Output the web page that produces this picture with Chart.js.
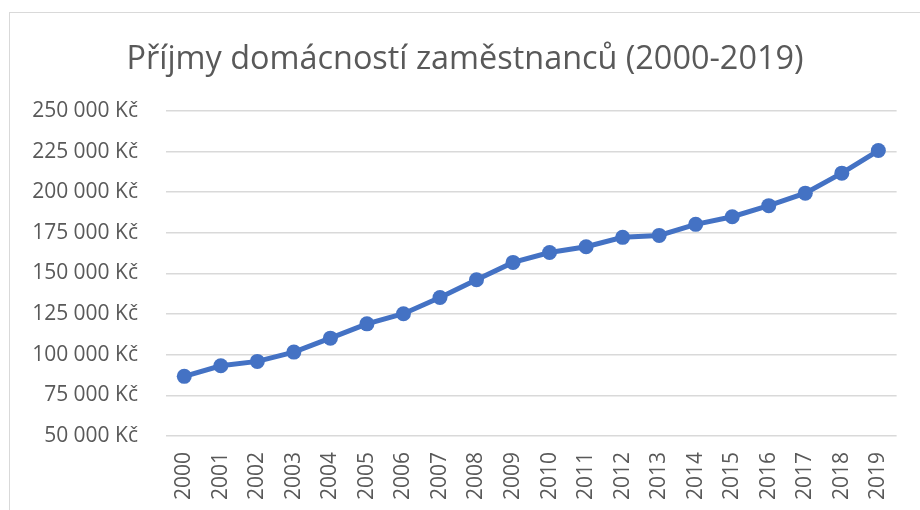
<!DOCTYPE html>
<html>
<head>
<meta charset="utf-8">
<script src="https://cdn.jsdelivr.net/npm/chart.js@4"></script>
<style>
    html, body { margin: 0; padding: 0; background: #fff; }
    #frame {
        position: absolute; left: 9px; top: 12px; width: 920px; height: 510px;
        border-left: 1px solid #d9d9d9; border-top: 1px solid #d9d9d9;
    }
    #wrap { position: absolute; left: 0; top: 0; width: 920px; height: 510px; }
</style>
</head>
<body>
<div id="frame"></div>
<div id="wrap"><canvas id="incomeChart"></canvas></div>
<script>
// Data
const years = ['2000', '2001', '2002', '2003', '2004', '2005', '2006', '2007', '2008', '2009',
    '2010', '2011', '2012', '2013', '2014', '2015', '2016', '2017', '2018', '2019'];
const incomes = [86700, 93200, 95900, 101600, 110200, 119000, 125200, 135200, 146100, 156800,
    162900, 166400, 172200, 173400, 180200, 184900, 191700, 199400, 211700, 225600];

const yMin = 50000;
const yMax = 250000;
const yStep = 25000;

const textColor = '#595959';
const gridColor = '#d9d9d9';
const lineColor = '#4472C4';

function formatKc(value) {
    return value.toString().replace(/\B(?=(\d{3})+(?!\d))/g, ' ') + ' Kč';
}

document.addEventListener('DOMContentLoaded', function () {
    const ctx = document.getElementById('incomeChart').getContext('2d');
    new Chart(ctx, {
        type: 'line',
        data: {
            labels: years,
            datasets: [
                {
                    label: 'Příjmy',
                    data: incomes,
                    borderColor: lineColor,
                    backgroundColor: lineColor,
                    borderWidth: 5,
                    pointRadius: 7.5,
                    pointBorderWidth: 0,
                    pointBackgroundColor: lineColor,
                    tension: 0
                }
            ]
        },
        options: {
            responsive: true,
            maintainAspectRatio: false,
            animation: false,
            layout: {
                padding: { left: 28, right: 18, top: 40, bottom: 0 }
            },
            plugins: {
                legend: { display: false },
                tooltip: { enabled: false },
                title: {
                    display: true,
                    text: 'Příjmy domácností zaměstnanců (2000-2019)',
                    color: textColor,
                    font: { family: 'Open Sans', size: 32.4, weight: 'normal' },
                    padding: { top: 0, bottom: 32 }
                }
            },
            scales: {
                x: {
                    offset: true,
                    grid: { display: false, drawTicks: false },
                    border: { display: false },
                    ticks: {
                        color: textColor,
                        font: { family: 'Open Sans', size: 21 },
                        minRotation: 90,
                        maxRotation: 90,
                        padding: 16,
                        autoSkip: false
                    },
                    afterFit: function (scale) { scale.height = 74; }
                },
                y: {
                    min: yMin,
                    max: yMax,
                    grid: { color: gridColor, lineWidth: 1.5, drawTicks: false },
                    border: { display: false },
                    ticks: {
                        stepSize: yStep,
                        color: textColor,
                        font: { family: 'Open Sans', size: 21 },
                        padding: 28,
                        callback: formatKc
                    },
                    afterFit: function (scale) { scale.width = 138; }
                }
            }
        }
    });
});
</script>
</body>
</html>
